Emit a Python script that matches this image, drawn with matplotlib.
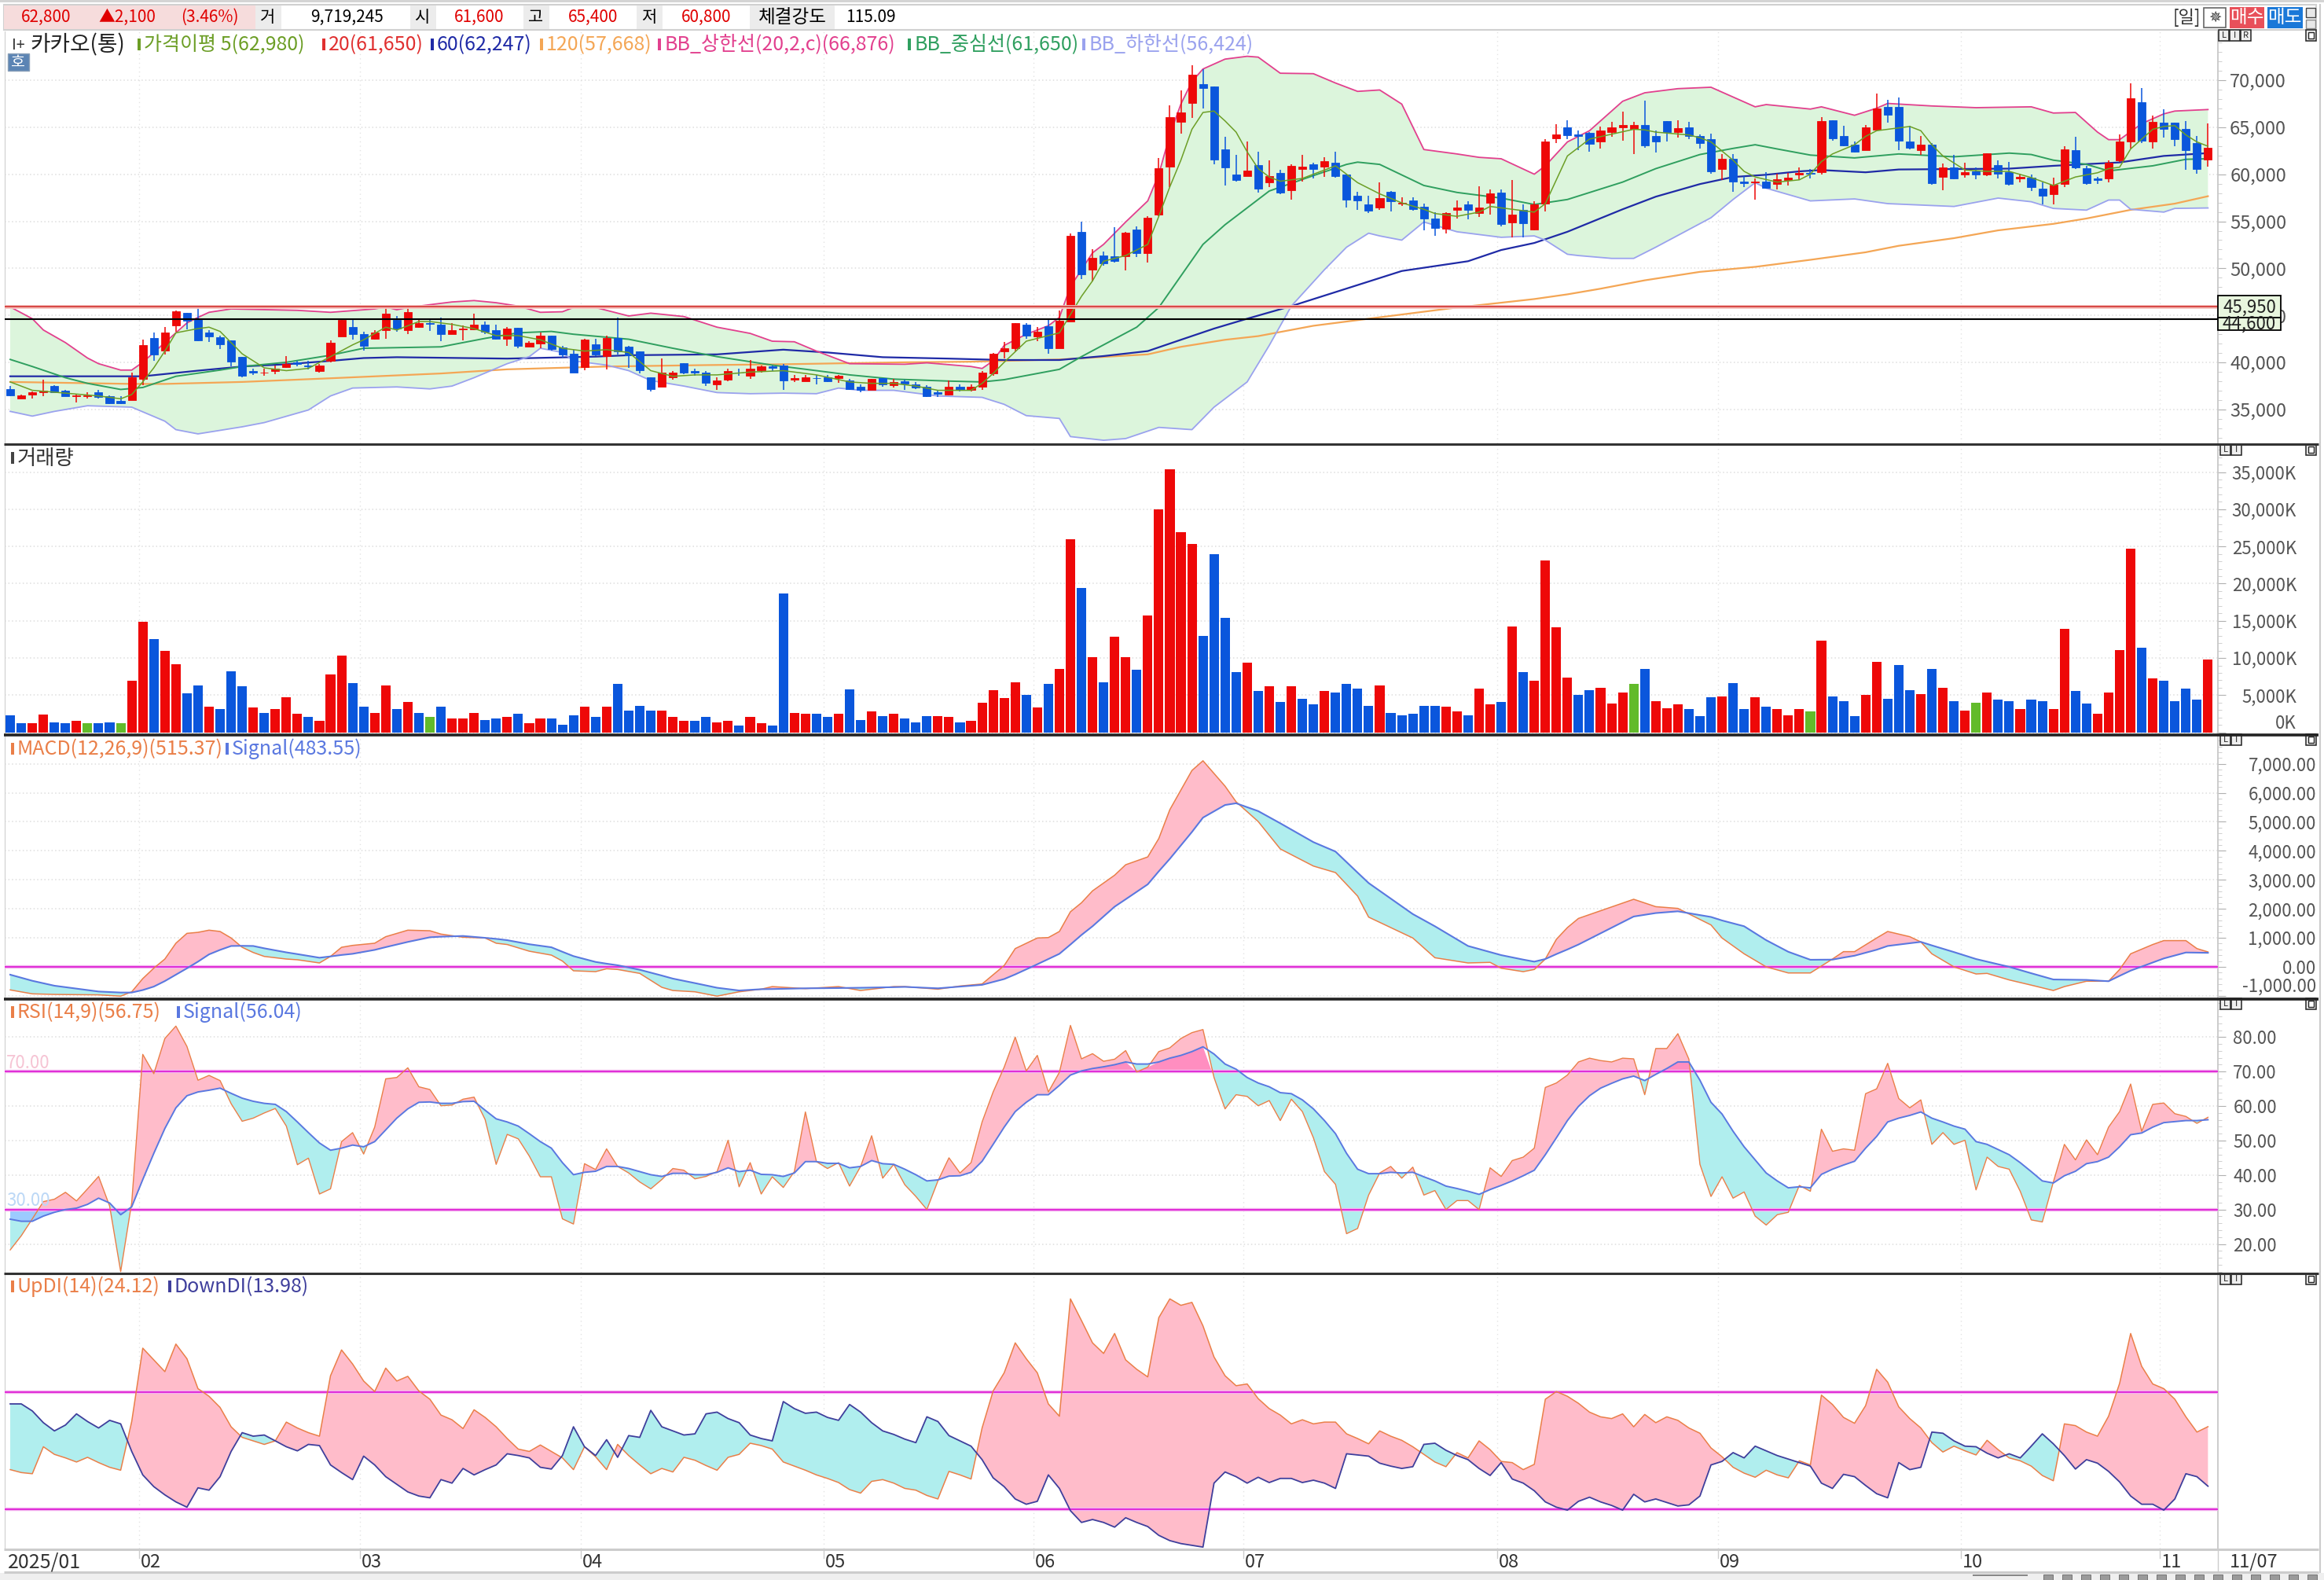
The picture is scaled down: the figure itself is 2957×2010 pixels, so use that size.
import numpy as np
import matplotlib
matplotlib.use("Agg")
import matplotlib.pyplot as plt
from matplotlib.patches import Rectangle
from matplotlib.ticker import MultipleLocator

plt.rcParams['font.family'] = ['Noto Sans CJK KR', 'DejaVu Sans']

# 일봉 시가/고가/저가/종가
opens = [37200,36150,36600,36850,37500,37000,36450,36450,36850,36450,
    35950,36000,38250,42600,41250,43950,45250,44600,43200,42700,
    42350,40600,39050,38950,39050,39500,40000,39700,39050,40150,
    42800,43750,43000,42500,43450,44500,43450,43750,44200,44050,
    43000,43550,43550,44000,43450,42550,43650,41700,42000,42850,
    41600,40950,39500,41950,40700,42600,41650,41200,38450,37400,
    38400,39950,39050,38950,37650,38150,38950,38600,39150,39550,
    39700,38150,38000,38350,38450,38350,38100,37450,37050,38350,
    37600,38000,37700,37400,36800,36600,37450,37050,37400,38800,
    41150,41550,44050,42750,43850,41550,44350,53900,49850,51400,
    51250,51300,54150,51650,55700,60800,65600,67600,69550,69300,
    62650,60000,59850,61000,59150,60150,58300,60600,61050,60800,
    61250,60000,57750,56800,56500,58150,56850,57250,56550,55300,
    54200,56200,56800,55900,56950,58050,54850,56250,54150,56850,
    63800,65000,64200,64400,63450,64500,64950,64800,65250,64050,
    65650,64500,65000,64100,63700,60550,61650,59250,59100,59250,
    59000,59400,59950,60150,60250,65750,64050,63150,62550,64700,
    67150,67150,63500,62550,63150,59700,60750,60000,60350,60000,
    60950,60250,59550,59650,58500,57900,58950,62550,60650,59550,
    59550,61500,63450,67700,63450,65450,65450,64800,63300,61600]
highs = [37500,36600,36950,38150,37600,37050,36600,36850,37050,36500,
    36400,38950,42450,43150,43750,45550,45250,45950,43450,42850,
    42350,40600,39350,39300,39700,40700,40150,40150,39850,42350,
    44500,44700,43300,43450,45850,44950,45850,44650,44650,44800,
    44150,43900,45150,44350,44050,43750,43650,42250,43150,42850,
    41800,41350,42550,42550,42850,44750,41800,41200,38450,40450,
    39100,39950,39300,39050,38400,39300,39300,40250,39700,39700,
    39850,38700,38700,38700,38700,38700,38250,37650,38250,38350,
    38250,38150,37900,37600,37000,38100,37650,37650,39100,41050,
    42150,44200,44200,43750,44500,45550,53700,55000,52000,51800,
    54350,53900,54500,55550,61750,67300,68950,71600,71200,69300,
    63950,62050,63450,62400,61450,60500,61050,62050,61250,61800,
    62400,60000,58150,57700,59150,58200,57550,57550,56850,56000,
    56000,57250,57150,58750,58350,58350,59400,56800,57150,63750,
    65300,65750,64650,64500,65100,65550,66650,65550,67800,64650,
    65650,65750,65550,64250,64300,62150,62150,59850,59550,60250,
    60050,60150,60750,60600,66050,65750,65150,63450,65200,68550,
    67900,68200,65150,64050,63350,61150,62050,61200,60750,62250,
    61500,61350,60050,59950,59100,59650,63000,63950,60900,59750,
    61500,64250,69700,69200,66250,66900,65450,65650,64050,65400]
lows = [36400,36150,36200,36450,36800,36400,35750,36150,36200,35600,
    35600,36000,37600,40150,40850,43300,43550,42250,42150,41450,
    39550,38400,38700,38550,38750,39450,39550,39250,38950,40000,
    42800,42400,41300,42400,42550,43300,43000,43650,43350,42250,
    43000,42350,43450,43000,42400,41750,41500,41650,41500,41300,
    40550,38900,39150,40650,39250,40850,39450,38850,36900,37400,
    38150,38750,38550,37500,37100,38000,38550,38250,38950,39100,
    37100,37950,38000,37700,37900,37800,37050,36800,37050,37400,
    37300,37100,37200,36300,36300,36500,36900,36900,37050,38550,
    40450,41150,42550,42250,40950,41500,44350,48900,48600,50300,
    50600,49800,51200,50650,55550,58600,64350,66000,67000,61050,
    58800,59250,59850,58050,58650,57900,57300,59250,59550,59700,
    59650,56450,56200,55900,56200,56050,56600,56150,54050,53450,
    53750,55300,55250,55500,55700,54500,53300,53300,54050,56050,
    63300,63750,62550,62400,62700,63950,63600,62150,62850,62350,
    63450,63900,63750,62700,60050,59400,58150,58600,57300,58450,
    58350,58800,59400,59550,60000,63550,62950,62350,62550,64650,
    65500,62550,62650,62050,58900,58300,59500,59650,59500,59850,
    59550,58800,59150,58200,56800,56800,58650,60550,58900,58950,
    59150,61350,62700,63350,62700,63900,62950,60450,60050,60800]
closes = [36500,36500,36850,37000,36850,36450,36500,36500,36300,35650,
    35650,38450,41850,40850,43200,45450,44450,42350,42800,41900,
    40100,38600,38950,38950,39350,39850,39850,39550,39700,42100,
    44500,43000,41750,43150,45150,43600,45350,44150,44100,43000,
    43450,43600,44000,43300,42500,43600,41750,42100,42850,41450,
    40850,38950,42400,40850,42600,41200,40750,39150,37200,38950,
    38950,38950,38900,37800,38100,39050,38900,39350,39600,39400,
    38050,38300,38450,38300,38000,38550,37200,37050,38250,37650,
    37950,37750,37350,36450,36650,37450,37050,37450,38950,40950,
    41550,44150,42850,43250,41500,44450,53500,49400,51100,50550,
    50750,53800,51650,55400,60650,66050,66550,70600,69200,61550,
    60700,59400,60400,58450,59800,58050,60900,60800,60600,61400,
    59800,57300,57200,56100,57500,57100,57000,56300,55300,54300,
    55850,56450,56200,56500,57950,54700,55750,54800,56800,63450,
    64200,64150,64100,63200,64650,65000,65250,65250,63050,63450,
    64500,64900,64050,63350,60300,61650,59250,59050,59250,58550,
    59450,59650,60150,60050,65650,63850,63100,62400,65000,67000,
    66350,63600,62800,63150,59050,60750,59550,60250,60000,62200,
    60050,59000,59700,58650,57700,58850,62650,60750,59050,59350,
    61200,63450,68050,63600,65550,64850,63700,62550,60600,62800]

# 거래량 (K)
volume = [2290,1235,1235,2360,1375,1235,1517,1235,1235,1375,
    1235,6950,14890,12525,10940,9170,5220,6280,3420,3100,
    8185,6170,3320,2650,3100,4690,2470,2050,1517,7760,
    10300,6600,3420,2650,6280,3100,4060,2650,2050,3420,
    1835,1835,2650,1690,1835,2050,2470,1235,1835,1835,
    1060,2330,3420,2050,3420,6490,2960,3600,2960,2960,
    2050,1517,1517,2050,1375,1517,880,2050,1235,880,
    18660,2650,2470,2470,2050,2470,5820,1690,2790,2150,
    2470,1835,1375,2150,2150,2050,1375,1517,3950,5645,
    4590,6770,5010,3320,6490,8540,26000,19470,10130,6770,
    12840,10130,8400,15700,30000,35350,26950,25370,12980,23960,
    15380,8080,9350,5540,6170,4060,6170,4550,3740,5540,
    5360,6490,5860,3600,6280,2650,2330,2470,3600,3600,
    3420,2790,2330,5860,3740,4060,14220,8080,6950,23140,
    14110,7410,5010,5645,6000,3920,5360,6490,8540,4230,
    3280,3740,3100,2190,4690,4870,6600,3100,4690,3420,
    3100,2330,3100,2790,12310,4870,4230,2190,5045,9455,
    4550,9030,5645,5190,8540,6000,4230,2960,3950,5360,
    4375,4230,3100,4375,4230,3100,13940,5540,3920,2470,
    5360,11080,24730,11400,7270,6950,4230,5860,4375,9770]
volume_side = list(
    "bbrrbbrgbb" "grrbrrbbrb" "bbrbrrrbrr" "rbbrrbrbgb"
    "rrrbbrbrrb" "bbrbrbbbbr" "rrbbrrbrrb" "brrbbrbbrb"
    "rbbbrrbrrr" "rrbrbrrbrb" "rrbrrrrrbb" "bbrbrbrbbr"
    "bbbbrbbbbb" "rrbrrbrbrr" "rrbbrrrgbr" "rrbbbrbbrb"
    "rrrgrbbbrr" "bbbrbrbrgr" "bbrbbrrbbr" "rrrbrbbbbr")

month_starts = [12, 32, 52, 74, 93, 112, 135, 155, 177, 195]
month_labels = ["02", "03", "04", "05", "06", "07", "08", "09", "10", "11"]

ma5_x = [0,2,5,8,10,11,12,13,14,15,17,18,19,20,21,22,23,25,27,29,31,32,34,35,37,38,40,42,44,46,48,50,52,54,56,58,60,62,64,67,70,
    73,76,78,80,82,84,87,88,89,90,92,94,95,96,97,98,99,101,103,104,105,106,107,108,109,110,111,112,113,114,115,116,117,118,119,120,
    121,122,124,126,128,129,131,133,134,136,138,139,140,141,143,147,148,149,152,153,154,156,157,158,160,162,163,164,165,167,168,169,
    171,172,173,174,175,177,179,181,183,185,187,189,190,191,192,194,195,196,197,198,199]
ma5 = [37930,37040,36740,36440,36140,36590,37930,39430,41210,43150,43600,43750,43300,42110,40920,40170,39430,39130,39370,40620,41870,42410,43750,43450,44350,44350,44050,43600,42850,42850,42410,41510,41210,41360,41060,39130,38530,38680,38680,38980,39130,
    38680,37930,37780,37780,37490,37040,37040,37780,38830,40020,42260,42850,43150,45090,47030,48670,50760,51360,52550,55530,58670,61500,64780,66570,66720,65670,64480,62390,60600,59710,59260,59410,59560,60010,60450,60900,
    60010,59110,57920,56960,56280,55830,55530,55980,56580,56280,55980,56880,59410,61950,63740,64780,64720,64480,64180,63880,63440,61500,60310,59710,59170,59410,60010,61350,62160,63140,64030,64630,
    64930,65080,64630,63140,61950,60450,60310,60310,59650,58810,59710,60160,60600,60750,62690,64780,65080,65170,64180,63440,62980]
bb_mid_x = [0,2,5,7,10,12,15,19,21,25,29,32,39,43,46,49,51,56,60,64,69,73,76,80,85,88,90,95,97,102,104,108,110,114,118,121,122,124,128,131,135,138,141,146,149,153,156,158,160,163,167,171,176,181,183,185,188,190,194,197,199]
bb_mid = [40320,39570,38380,37780,37130,37340,38530,39190,39570,40020,40770,41510,41660,42560,43150,43300,43000,42470,41510,40620,39720,39130,38680,38230,38020,37930,38170,39270,40620,43750,45840,52550,54640,58220,59860,61050,61290,61050,58810,58070,57470,56790,57320,59170,60600,62100,62750,63140,62690,62040,61740,62160,61860,62250,62100,61500,61050,60360,60900,61590,61650]
bb_up_x = [0,2,3,5,7,8,10,11,12,14,16,17,18,20,26,29,33,34,35,36,38,40,42,44,46,48,50,51,53,56,58,61,64,67,69,71,73,75,76,81,83,87,88,89,90,92,94,95,96,97,98,99,101,103,104,105,106,107,108,110,112,113,115,118,120,122,124,126,128,131,133,135,138,139,141,143,146,148,151,154,156,158,159,163,164,167,169,170,174,178,183,185,187,189,190,191,193,195,196,199]
bb_up = [45900,44650,43450,42110,40470,39870,39190,39190,40020,42110,44200,44790,45330,45690,45540,45330,45690,45900,45600,45840,46140,46430,46580,46350,45990,45330,45390,45840,45840,44940,45240,44880,43750,43090,42260,42200,41210,40320,39870,39810,39960,39570,39360,40170,41810,43000,43900,44790,48070,49860,51650,52550,54930,57170,60010,64180,67460,69850,71190,72240,72540,72450,70740,70690,69700,68810,68960,67460,62630,62160,61800,61650,60010,60900,63440,64630,67760,68660,69100,69250,68210,67170,67410,66930,67170,66270,67020,67530,67260,67080,67170,66510,66570,64480,63680,63680,65380,66420,66720,66880]
bb_low_x = [0,2,4,7,11,14,15,17,21,23,27,29,31,35,38,40,42,45,47,48,50,51,54,56,58,61,64,67,70,73,75,77,80,84,88,90,92,95,96,99,101,104,107,109,112,114,116,119,121,123,124,126,128,131,135,138,139,141,142,145,147,149,154,156,158,159,163,167,170,176,180,183,185,188,190,191,192,195,196,199]
bb_low = [34800,34300,34800,35400,35250,33760,32860,32410,33160,33610,34950,36440,37280,37400,37190,37490,38380,39870,40620,41510,41060,40170,39720,39130,38080,37490,36800,36680,36740,36680,37280,37040,37040,36440,36290,35550,34350,34050,32120,31730,31910,33100,32860,35250,37930,41810,45990,49860,52250,53740,53450,53000,54930,53890,53300,53450,53000,51500,51360,51060,51060,52250,55380,57320,59110,58520,57170,57380,56880,56580,57470,57080,56370,56190,57260,57260,56280,55980,56370,56420]
ma60_x = [0,12,17,21,25,29,32,35,45,53,56,64,70,74,79,85,90,95,99,103,106,109,112,116,120,126,132,135,138,141,146,149,153,156,159,162,164,168,171,181,185,191,195,199]
ma60 = [38530,38530,39130,39570,39810,40170,40470,40560,40410,40620,40770,40860,41360,41060,40560,40410,40260,40260,40680,41210,42410,43600,44650,45990,47480,49720,50760,51950,52700,53890,56280,57620,58960,59710,59950,60310,60450,60210,60510,60600,60900,61260,61950,62250]
ma120_x = [0,11,14,21,29,39,45,54,63,70,81,87,95,103,106,110,113,118,123,131,135,138,141,144,148,153,158,163,168,171,176,180,185,188,192,196,199]
ma120 = [37930,37720,37720,37930,38320,38830,39270,39570,39720,39810,40020,40080,40320,40860,41660,42410,42800,43900,44650,45840,46350,46740,47240,47840,48730,49630,50160,50910,51710,52400,53210,54040,54730,55300,56220,56880,57668]

# MACD / Signal
macd_x = [0,2,4,8,10,11,12,13,14,15,16,17,18,19,20,21,22,23,25,26,28,29,30,31,33,34,36,38,39,41,43,44,45,47,49,50,51,53,54,55,57,59,60,62,64,66,68,69,72,75,77,80,81,84,86,88,90,91,93,94,95,96,97,98,100,101,103,104,105,107,108,110,111,113,115,118,120,122,123,127,129,132,134,135,137,138,139,140,141,142,147,149,151,154,155,157,159,161,163,165,166,167,169,170,172,173,174,176,178,179,181,183,185,186,188,190,191,192,194,195,197,198,199]
macd = [-795,-930,-950,-965,-1010,-860,-405,-45,270,815,1155,1190,1265,1220,995,675,495,360,270,245,135,360,675,740,815,1040,1265,1245,1130,1020,995,815,770,540,405,200,-135,-165,-65,-90,-225,-705,-815,-860,-1010,-860,-770,-680,-750,-680,-815,-680,-680,-770,-660,-590,45,630,995,1010,1220,1900,2210,2620,3160,3520,3790,4425,5420,6770,7105,6230,5690,5010,4065,3475,3250,2440,1715,995,315,135,155,-45,-165,-90,270,950,1355,1670,2330,2075,2015,1445,995,450,0,-210,-210,270,525,525,995,1220,1040,860,450,0,-245,-225,-450,-630,-815,-680,-495,-495,-90,450,770,905,905,630,515]
macd_signal = [-270,-480,-650,-850,-885,-885,-800,-680,-490,-270,-50,180,430,585,720,725,720,640,500,440,315,360,410,450,585,680,860,1020,1040,1065,1000,965,920,780,675,520,370,170,110,55,-100,-300,-405,-560,-720,-815,-770,-765,-740,-730,-720,-700,-690,-740,-680,-620,-420,-260,90,270,450,770,1100,1400,2075,2330,2845,3295,3725,4650,5145,5580,5640,5370,4950,4300,3975,3250,2890,1820,1400,720,510,405,250,180,270,440,600,770,1735,1855,1915,1720,1600,1400,920,520,245,250,320,385,590,720,815,860,740,510,270,180,0,-220,-435,-440,-450,-495,-310,-130,150,290,495,490,484]

# RSI / Signal
rsi = [18.3,22.4,27.3,32.3,33,35,32.5,36,39.6,31,12,32,75,69.4,79.6,83.2,77.3,67.5,68.9,67.4,
    60.7,55.6,56.5,58,59.3,54.2,43,44.9,34.5,36,49.7,52.3,46.1,53.9,67.9,68.3,71.1,65.6,64.8,60.1,
    60.3,62,62.6,56.1,43.1,51.8,50.5,45.5,39.5,39.5,27.3,25.8,43.3,41.6,47.6,42.5,40.6,38,36,38.7,
    41.9,41.4,38.9,39.6,41,50.1,36.6,43.6,34.5,39.5,36.4,41,58.3,43.9,41.9,43.6,36.8,42.5,51.4,39.1,
    43.1,37.2,33.8,30,38.3,45,40.6,43.6,55.4,64.1,71.3,80,70.2,74.7,64.1,69.8,83.4,73.7,75.2,73,
    73.6,76.1,69.9,71.3,75.8,76.9,79.6,81.3,82.2,68.3,59.2,63.3,62.8,60.1,61.6,55.8,62,58.4,50.8,41,
    37.3,23,24.5,34.2,40.6,42.5,39.1,42.3,34.2,35.5,30,32.6,32.6,30,42.1,39.6,44.2,45.2,47.8,65.4,
    66.7,69,72.8,73.9,73.2,72.8,73.9,73.7,63.3,76.7,76.7,81,73.6,43.1,33.8,39.5,33.3,35.1,28.1,25.5,
    28.5,29.2,37,35.3,53.3,46.9,47.6,47.2,63.6,65,72.4,62.2,59.5,61.8,48.9,52.3,48.9,50.1,35.7,45.2,
    42.5,41.7,35.3,27,26.4,38,48.9,44.4,50.2,45.9,53.9,58.4,66.4,52.7,60.5,60.9,57.8,57,55,56.75]
rsi_signal = [27.2,26.6,26.6,28.1,29.2,30,30.4,31.5,33.3,31.9,28.5,30.8,38.7,46.3,53.5,59.5,63,64.1,64.6,65.2,
    63.7,62.3,61.4,60.8,60.5,58.4,55.4,52.3,49.3,47.2,47.8,48.7,48.2,49.7,53.1,56.5,59.2,61.1,61.2,60.8,
    60.8,61.3,61.4,58.8,56.3,55.4,54.2,52,49.7,47.8,43.6,40.1,40.8,41.1,42.5,42.5,41.9,41,40.1,39.6,
    40.5,40.5,40.1,40.1,40.8,42.1,41,41.4,40.2,40.1,39.6,40.6,43.9,43.9,43.4,43.4,42.1,42.5,44.2,43.3,
    43.1,41.7,40.1,38.3,38.6,39.7,39.8,40.8,44,48.9,53.9,58.4,61.1,63.3,63.3,66,69,70.2,70.9,71.4,
    72,72.8,72.2,72.2,72.8,73.9,74.7,75.8,77.2,75.1,72.2,70.7,68.3,66.7,65.6,63.9,63.6,61.8,59.2,55.8,
    52,46.3,41.7,40.4,40.4,40.8,40.6,40.8,39.5,38.3,36.8,36.1,35.3,34.4,35.8,37,38.3,39.8,41.4,45.9,
    50.8,55.8,59.9,63,65.2,66.6,67.9,68.7,67.4,69.2,70.9,72.8,72.8,67.5,61.1,57.7,52.7,48.2,44.4,40.6,
    38.3,36.3,36.6,36.3,40.2,41.7,42.9,44,47.8,51.2,55.4,56.5,57.3,58.3,56.5,55.4,54.2,53.3,49.7,48.9,
    47.4,45.9,43.6,41,38.3,37.7,39.8,41.1,43.3,43.9,45.2,48.2,51.7,52.2,53.9,55.2,55.5,55.8,55.8,56.04]

# UpDI / DownDI
up_di = [16.8,16.3,16.1,20.7,19.4,18.8,18.1,18.9,18,17.2,16.7,25,37.5,35.5,33.5,38.2,35.7,30.6,29.3,27.4,
    24.1,22.3,21.7,21.1,21.7,24.9,23.9,23.1,22.5,32.8,37.2,34.8,31.9,30.1,34.1,31.9,32.7,30.2,28.8,26.1,
    25.3,23.8,27,25.7,24.1,22.1,20.3,19.9,21,19.9,18.8,16.8,20.7,19,16.8,21.1,19.2,17.6,16.1,17,
    16.4,18.9,18.4,17.5,16.7,18.9,19.4,21.3,20.9,20.3,18.1,17.4,16.7,15.9,15.3,14.6,13.4,12.8,14.8,15.1,
    14.5,13.6,13.3,12.4,11.8,16.5,15.9,15.2,23.9,30.2,33.3,38.4,35.7,33.3,28,25.9,45.9,42.2,38.4,36.6,
    40,35.5,33.9,32.6,42.7,45.9,44.8,45.3,41.3,36,32.8,31.1,31.4,28.9,27.2,26.1,24.6,25.3,24.6,24.9,
    24.9,22.9,22.1,21.2,23.4,22.5,21.8,20.7,19.4,18.1,17.3,19.7,18.8,21.7,20.2,18.2,18,16.8,17.7,28.8,
    30.1,29.3,28.1,26.6,25.8,25.5,26.3,24.1,26.2,24.8,25.8,25.2,23.9,23,20.5,19,17.2,16.2,15.5,16.7,
    15.9,15.4,18.3,17.6,29.5,27.9,25.7,24.7,27.7,33.9,31.7,27.5,25.5,23.9,21.4,19.8,20.8,20,19.3,21.8,
    20.2,18.8,18.3,17.4,15.8,14.9,24.6,24.3,23.2,22.5,25.9,31.5,40,34.4,31.4,30.6,28.8,25.8,23.2,24.12]
down_di = [28,28,26.8,24.8,23.4,24.4,26.3,25,23.9,25.2,24.6,19.9,15.9,13.9,12.5,11.3,10.4,13.7,13.3,15.6,
    19.9,23.1,22.5,22.7,21.7,20.7,20,21.1,20.9,17.6,16.3,15.1,19.1,17.6,15.6,14.3,13,12.3,12,15.1,
    14.5,17,15.9,16.8,17.6,19.5,19.2,18.8,17.2,16.9,19.2,24.1,20.7,19.2,21.9,18.9,22.6,22.3,26.9,24.1,
    23.4,22.7,22.9,26.3,26.6,25.5,24.8,22.7,22.1,21.7,28.4,27.2,26.4,26.6,25.7,25.2,27.9,26.6,24.8,23.4,
    22.8,22,21.4,25.8,25,22.6,21.7,20.8,18.5,15.4,13.9,11.8,10.9,11.4,15.9,13.6,9.8,7.8,8.3,7.8,
    7,8.6,7.8,7.1,5.6,4.7,4.2,3.9,3.6,14.5,16.4,15.6,14.5,15.5,14.6,15.3,15.3,14.6,15,14.5,
    13.6,19.5,19.3,19.1,17.9,17.4,17,17.3,21.1,21.3,20.1,19.2,18.5,17,15.8,18,15.2,14.5,13.2,11.3,
    10.4,9.9,11.4,12.1,11.3,10.7,9.9,12.6,11.3,11.8,11.2,10.6,10.8,12.3,17.6,18.2,19.7,18.8,20.8,20,
    19.2,18.6,18,17.4,14.5,13.6,16,15.6,14.1,12.7,12,18,16.8,17.2,23.2,23,21.7,20.8,20.7,19.6,
    18.8,19.5,18.8,20.8,22.9,21.2,19.2,16.9,18.5,17.9,16.5,14.7,12.3,10.9,10.9,9.9,11.8,16.1,15.6,13.98]

price_ticks = [35000, 40000, 45000, 50000, 55000, 60000, 65000, 70000]
volume_ticks = [0, 5000, 10000, 15000, 20000, 25000, 30000, 35000]
macd_ticks = [-1000, 0, 1000, 2000, 3000, 4000, 5000, 6000, 7000]
rsi_ticks = [20, 30, 40, 50, 60, 70, 80]
level_red = 45950
level_black = 44600

W, H = 2957, 2010
LEFT, RIGHT = 6, 2822
RED, BLUE, GREEN = '#ee0808', '#0a56dc', '#62bb2a'
TICK = '#555555'
MAGENTA = '#e02fd8'
PINK_FILL, CYAN_FILL = '#ffbcca', '#b0eeee'
ORANGE_LINE, SIGNAL_LINE = '#ea7f48', '#5a78e0'

fig = plt.figure(figsize=(W / 100, H / 100), dpi=100, facecolor='white')


def panel(top, bottom, ymax, ymin):
    ax = fig.add_axes([LEFT / W, 1 - bottom / H, (RIGHT - LEFT) / W, (bottom - top) / H])
    ax.set_xlim(-0.5, 199.9)
    ax.set_ylim(ymin, ymax)
    for s in ['top', 'bottom']:
        ax.spines[s].set_visible(False)
    ax.spines['left'].set_color('#cfcfcf')
    ax.spines['right'].set_color('#c4c4c4')
    ax.spines['right'].set_linewidth(1.2)
    ax.tick_params(axis='x', bottom=False, labelbottom=False)
    ax.set_xticks([m - 0.35 for m in month_starts])
    ax.grid(True, axis='x', color='#e4e4e4', linestyle=(0, (1, 3)), linewidth=1)
    ax.set_axisbelow(True)
    return ax


def right_axis(ax, ticks, labels, right_px, minor, size=16, lift_first=False):
    ax.yaxis.tick_right()
    ax.set_yticks(ticks)
    ax.set_yticklabels(labels)
    ax.yaxis.set_minor_locator(MultipleLocator(minor))
    ax.tick_params(axis='y', which='major', length=7, color='#b0b0b0', labelcolor=TICK, labelsize=size,
                   pad=(right_px - RIGHT) * 0.72 - 7)
    ax.tick_params(axis='y', which='minor', length=3.5, color='#c8c8c8')
    for t in ax.get_yticklabels():
        t.set_ha('right')
    # 맨 아래 눈금 글자는 구분선에 닿지 않게 올림
    if lift_first:
        ax.get_yticklabels()[0].set_va('bottom')
    ax.grid(True, axis='y', color='#dedede', linestyle=(0, (1, 2)), linewidth=1.1)


def guide(ax, y):
    ax.axhline(y, color='#f4b8f0', lw=3.2, zorder=3)
    ax.axhline(y, color=MAGENTA, lw=1.5, zorder=3.1)


def band(ax, x, a, b):
    ax.fill_between(x, a, b, where=a >= b, interpolate=True, color=PINK_FILL, lw=0, zorder=2)
    ax.fill_between(x, a, b, where=a <= b, interpolate=True, color=CYAN_FILL, lw=0, zorder=2)


# 가격
ax1 = panel(40, 564, 75180, 31404)
right_axis(ax1, price_ticks, [f"{v:,}" for v in price_ticks], 2909, 1000, size=17)
ax1.fill(list(bb_up_x) + bb_low_x[::-1], list(bb_up) + bb_low[::-1], color='#dcf5dc', lw=0, zorder=1)
ax1.plot(ma120_x, ma120, color='#f4a655', lw=1.6, zorder=2)
ax1.plot(ma60_x, ma60, color='#1f2aa6', lw=1.6, zorder=2)
ax1.plot(bb_up_x, bb_up, color='#e2408e', lw=1.3, zorder=2)
ax1.plot(bb_low_x, bb_low, color='#9aa2ee', lw=1.3, zorder=2)
ax1.plot(bb_mid_x, bb_mid, color='#2f9f5f', lw=1.4, zorder=2)
for i in range(len(opens)):
    col = RED if closes[i] >= opens[i] else BLUE
    ax1.vlines(i, lows[i], highs[i], color=col, lw=1.1, zorder=3)
    ax1.bar(i, abs(closes[i] - opens[i]), bottom=min(opens[i], closes[i]), width=0.72,
            color=col, edgecolor=col, lw=0.6, zorder=3.2)
ax1.plot(ma5_x, ma5, color='#6c9e26', lw=1.1, zorder=4)
ax1.axhline(level_red, color='#f6c4c0', lw=3.5, zorder=5)
ax1.axhline(level_red, color='#d84a48', lw=1.5, zorder=5.1)
ax1.axhline(level_black, color='black', lw=1.5, zorder=5)

# 거래량
ax2 = panel(566, 933, 38657, -137)
right_axis(ax2, volume_ticks, [f"{v:,}K" for v in volume_ticks], 2922, 1000, lift_first=True)
side_color = {'r': RED, 'b': BLUE, 'g': GREEN}
ax2.bar(range(len(volume)), volume, width=0.86, color=[side_color[s] for s in volume_side], zorder=3)

# MACD
ax3 = panel(936, 1269, 7967, -1057)
right_axis(ax3, macd_ticks, [f"{v:,}.00" for v in macd_ticks], 2947, 200, lift_first=True)
band(ax3, macd_x, np.array(macd), np.array(macd_signal))
guide(ax3, 0)
ax3.plot(macd_x, macd, color=ORANGE_LINE, lw=1.1, zorder=4)
ax3.plot(macd_x, macd_signal, color=SIGNAL_LINE, lw=1.5, zorder=4)

# RSI
xs = np.arange(len(rsi))
rsi_a, sig_a = np.array(rsi), np.array(rsi_signal)
ax4 = panel(1272, 1619, 90.8, 11.7)
right_axis(ax4, rsi_ticks, [f"{v}.00" for v in rsi_ticks], 2897, 2)
band(ax4, xs, rsi_a, sig_a)
ax4.fill_between(xs, 70, np.minimum(sig_a, rsi_a), where=np.minimum(sig_a, rsi_a) > 70, interpolate=True,
                 color='#ff8ec0', lw=0, zorder=2.5)
ax4.fill_between(xs, 30, sig_a, where=sig_a < 30, interpolate=True, color='#9ccbff', lw=0, zorder=2.5)
guide(ax4, 70)
guide(ax4, 30)
ax4.plot(xs, rsi, color=ORANGE_LINE, lw=1.0, zorder=4)
ax4.plot(xs, rsi_signal, color=SIGNAL_LINE, lw=1.4, zorder=4)

# DI
ax5 = panel(1621, 1970, 50.1, 3.35)
ax5.yaxis.set_visible(False)
band(ax5, xs, np.array(up_di), np.array(down_di))
guide(ax5, 30)
guide(ax5, 10)
ax5.plot(xs, up_di, color=ORANGE_LINE, lw=1.1, zorder=4)
ax5.plot(xs, down_di, color='#3f3f9c', lw=1.3, zorder=4)

# 화면 테두리, 헤더, 범례는 픽셀 좌표로 덧그림
ov = fig.add_axes([0, 0, 1, 1], zorder=10)
ov.set_xlim(0, W)
ov.set_ylim(H, 0)
ov.axis('off')


def box(x0, y0, x1, y1, fc, ec='none', lw=0):
    ov.add_patch(Rectangle((x0, y0), x1 - x0, y1 - y0, facecolor=fc, edgecolor=ec, linewidth=lw))


def label(x, y, s, color='black', size=15, ha='center'):
    ov.text(x, y, s, color=color, fontsize=size, ha=ha, va='center')


def legend(y, items, size=18):
    for x, s, col in items:
        if col is not None:
            box(x - 8, y - 8, x - 4, y + 7, col)
        label(x, y, s, col if col is not None else '#333333', size, ha='left')


# 윗줄
box(0, 0, W, 3, '#d4d4d4')
box(5, 6, 2947, 38, 'white', '#d0d0d0', 1.5)
box(5, 7, 325, 37, '#f6dcdc')
for x0, x1 in [(325, 358), (522, 555), (666, 699), (810, 843), (954, 1062)]:
    box(x0, 7, x1, 37, '#ececec')
for x, s, col in [(59, "62,800", '#e00000'), (162, "▲2,100", '#e00000'), (267, "(3.46%)", '#e00000'),
                  (341, "거", 'black'), (441, "9,719,245", 'black'), (537, "시", 'black'),
                  (610, "61,600", '#e00000'), (682, "고", 'black'), (755, "65,400", '#e00000'),
                  (826, "저", 'black'), (899, "60,800", '#e00000'), (1108, "115.09", 'black')]:
    label(x, 22, s, col)
label(1008, 22, "체결강도", 'black', 17)
label(2782, 22, "[일]", '#333333', 16)
box(2804, 10, 2832, 35, 'white', '#666666', 1.2)
label(2818, 22, "✵", '#333333', 14)
box(2837, 9, 2881, 36, '#e8505a')
label(2859, 22, "매수", 'white', 17)
box(2885, 9, 2930, 36, '#1a78d8')
label(2907, 22, "매도", 'white', 17)
box(2934, 10, 2946, 22, '#e8e8e8', '#444444', 1)
box(2934, 25, 2946, 36, '#e8e8e8', '#888888', 1)

# 패널 구분선
for y, col, lw in [(565, '#333333', 2.2), (934.5, '#222222', 2.6), (1270.5, '#222222', 2.6),
                   (1620, '#333333', 2.2), (1971, '#cccccc', 2.2), (2000, '#cccccc', 2.2)]:
    ov.plot([5, 2950], [y, y], color=col, lw=lw, solid_capstyle='butt')
ov.plot([2952, 2952], [6, 2000], color='#cccccc', lw=1.5)
box(0, 2001, W, H, '#efefef')

# 오른쪽 작은 버튼
for y in [45, 572, 941, 1277, 1627]:
    xs_btn = [2823, 2837, 2851] if y == 45 else [2825, 2839]
    names = ["L", "I", "R"] if y == 45 else ["L", "I"]
    for x, s in zip(xs_btn, names):
        box(x, y - 7, x + 13, y + 7, '#eeeeee', '#222222', 1.1)
        label(x + 6.5, y, s, '#222222', 8)
    box(2934, y - 7, 2947, y + 7, '#eeeeee', '#222222', 1.1)
    box(2937, y - 4, 2944, y + 4, 'white', '#222222', 1)

# 아래 도구 모음
box(2510, 2003, 2580, 2005, '#888888')
for x in range(2600, 2950, 24):
    box(x, 2003, x + 12, 2010, '#9a9a9a', '#666666', 0.6)

# 기준선 값 상자
box(2822, 404, 2902, 420, '#e8f6de', 'black', 1.3)
label(2862, 412, f"{level_black:,}", '#222222', 16)
box(2822, 376, 2902, 404, '#e8f6de', 'black', 1.3)
label(2862, 391, f"{level_red:,}", '#222222', 16)

# 범례
label(15, 57, "I+", '#333333', 14, ha='left')
label(38, 57, "카카오(통)", '#222222', 20, ha='left')
legend(57, [(183, "가격이평 5(62,980)", '#6c9e26'), (418, "20(61,650)", '#e03030'),
            (556, "60(62,247)", '#1f2aa6'), (695, "120(57,668)", '#f4a655'),
            (845, "BB_상한선(20,2,c)(66,876)", '#e2408e'), (1163, "BB_중심선(61,650)", '#2f9f5f'),
            (1385, "BB_하한선(56,424)", '#9aa2ee')])
box(10, 68, 37, 90, '#5b84b4', '#8aa0b8', 1)
label(23, 79, "호", 'white', 14)
label(22, 583, "거래량", '#333333', 19, ha='left')
box(14, 575, 18, 590, '#444444')
legend(953, [(22, "MACD(12,26,9)(515.37)", ORANGE_LINE), (295, "Signal(483.55)", SIGNAL_LINE)])
legend(1288, [(22, "RSI(14,9)(56.75)", ORANGE_LINE), (233, "Signal(56.04)", SIGNAL_LINE)])
legend(1637, [(22, "UpDI(14)(24.12)", ORANGE_LINE), (222, "DownDI(13.98)", '#3f3f9c')])
label(8, 1352, "70.00", '#f6c4d4', 16, ha='left')
label(8, 1527, "30.00", '#bcd8f6', 16, ha='left')

# 날짜축
label(10, 1987, "2025/01", '#333333', 18, ha='left')
for m, s in zip(month_starts, month_labels):
    px = LEFT + (m - 0.35 + 0.5) / 200.4 * (RIGHT - LEFT)
    ov.plot([px, px], [1971, 1982], color='#cccccc', lw=1)
    label(px + 2, 1987, s, '#333333', 17, ha='left')
label(2837, 1987, "11/07", '#333333', 17, ha='left')
ov.plot([RIGHT, RIGHT], [1971, 2000], color='#cccccc', lw=1)

fig.savefig('out.png', dpi=100)
